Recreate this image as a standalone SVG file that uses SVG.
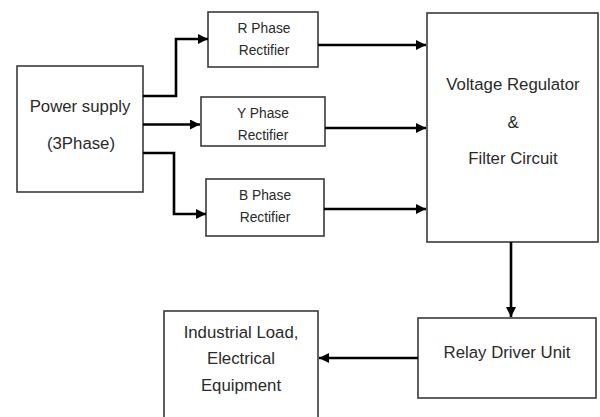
<svg xmlns="http://www.w3.org/2000/svg" width="600" height="417" viewBox="0 0 600 417">
<defs>
<marker id="ah" viewBox="0 0 10 10" refX="10" refY="5" markerWidth="10" markerHeight="10" markerUnits="userSpaceOnUse" orient="auto">
<path d="M0,0 L10,5 L0,10 z" fill="#000"/>
</marker>
<style>
.box{fill:#fff;stroke:#3a3a3a;stroke-width:1.6}
.lbl{font-family:"Liberation Sans",Arial,sans-serif;fill:#2a2a2a;text-anchor:middle;dominant-baseline:central}
.big{font-size:16.8px}
.small{font-size:13.8px}
.con{fill:none;stroke:#000;stroke-width:2.6;marker-end:url(#ah)}
</style>
</defs>
<rect width="600" height="417" fill="#fff"/>
<g id="power">
<rect class="box" x="17" y="66" width="126" height="126"/>
<text class="lbl big" x="80" y="106">Power supply</text>
<text class="lbl big" x="81" y="143">(3Phase)</text>
</g>
<g id="rphase">
<rect class="box" x="208" y="12" width="110" height="55"/>
<text class="lbl small" x="264" y="28">R Phase</text>
<text class="lbl small" x="264" y="50">Rectifier</text>
</g>
<g id="yphase">
<rect class="box" x="201" y="97" width="124" height="49"/>
<text class="lbl small" x="263" y="113">Y Phase</text>
<text class="lbl small" x="263" y="135">Rectifier</text>
</g>
<g id="bphase">
<rect class="box" x="206" y="179" width="118" height="57"/>
<text class="lbl small" x="265" y="195">B Phase</text>
<text class="lbl small" x="265" y="217">Rectifier</text>
</g>
<g id="regulator">
<rect class="box" x="427" y="13" width="171" height="229"/>
<text class="lbl big" x="513" y="84">Voltage Regulator</text>
<text class="lbl big" x="513" y="122">&amp;</text>
<text class="lbl big" x="513" y="158">Filter Circuit</text>
</g>
<g id="relay">
<rect class="box" x="418" y="318" width="178" height="80"/>
<text class="lbl big" x="507" y="352">Relay Driver Unit</text>
</g>
<g id="load">
<rect class="box" x="164" y="311" width="154" height="112"/>
<text class="lbl big" x="241" y="332">Industrial Load,</text>
<text class="lbl big" x="241" y="358">Electrical</text>
<text class="lbl big" x="241" y="385">Equipment</text>
</g>
<g id="connectors">
<path class="con" d="M143,96 H176 V39 H208"/>
<path class="con" d="M143,124.5 H200"/>
<path class="con" d="M143,153 H174 V214 H206"/>
<path class="con" d="M318,45 H426"/>
<path class="con" d="M325,128 H426"/>
<path class="con" d="M324,209 H426"/>
<path class="con" d="M511,242 V317"/>
<path class="con" d="M418,358 H319"/>
</g>
</svg>
